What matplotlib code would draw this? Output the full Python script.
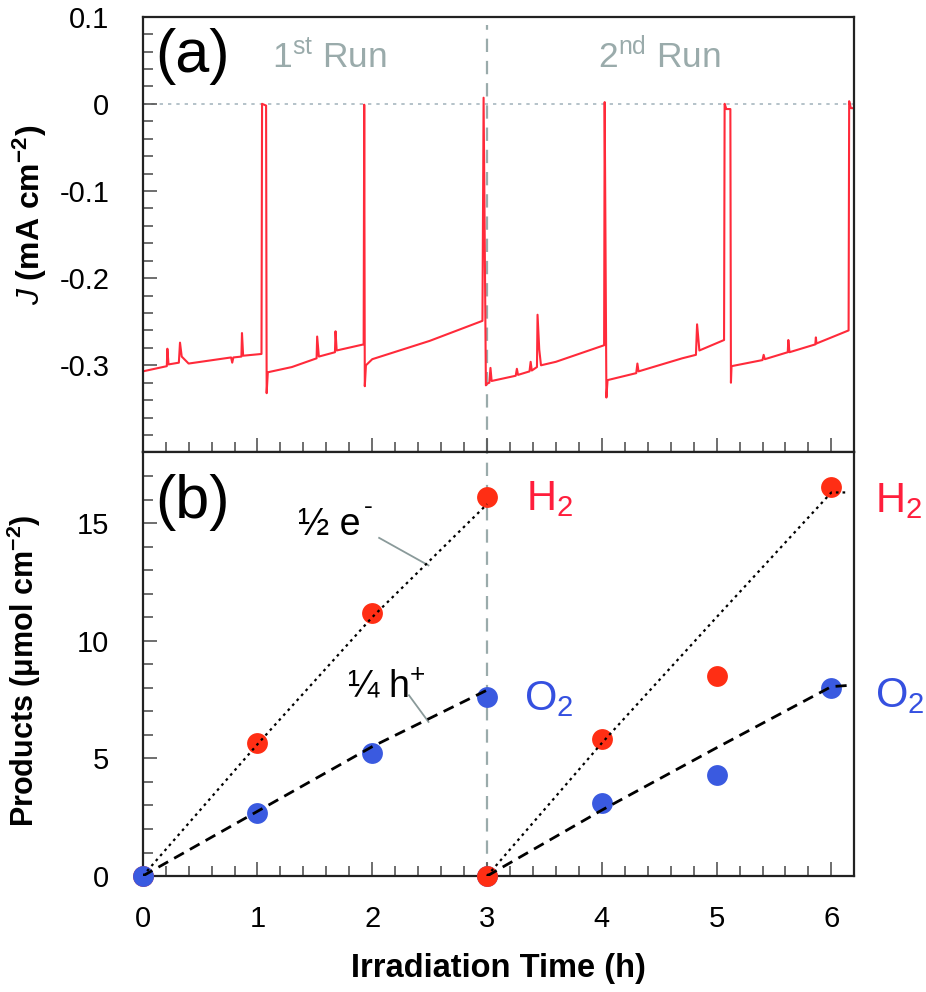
import numpy as np
import matplotlib
matplotlib.use("Agg")
import matplotlib.pyplot as plt
from matplotlib.ticker import MultipleLocator, FixedLocator, FixedFormatter

plt.rcParams['font.family'] = ['Liberation Sans', 'DejaVu Sans']
plt.rcParams['mathtext.fontset'] = 'custom'
plt.rcParams['mathtext.rm'] = 'Liberation Sans'
plt.rcParams['mathtext.it'] = 'Liberation Sans:italic'
plt.rcParams['mathtext.bf'] = 'Liberation Sans:bold'

# (a) photocurrent trace, vertices
trace_t = [0, 0, 0.21, 0.215, 0.225, 0.315, 0.325, 0.34, 0.40, 0.77, 0.78, 0.79,
           0.86, 0.865, 0.875, 1.035, 1.04, 1.075, 1.08, 1.09, 1.30, 1.515, 1.52,
           1.535, 1.675, 1.68, 1.69, 1.925, 1.93, 1.935, 1.945, 2.0, 2.5, 2.96,
           2.97, 2.99, 3.0,
           3.02, 3.03, 3.04, 3.25, 3.26, 3.27, 3.37, 3.38, 3.39, 3.435, 3.44,
           3.455, 3.47, 3.6, 4.02, 4.025, 4.04, 4.05, 4.3, 4.31, 4.32, 4.7, 4.82,
           4.83, 4.85, 5.065, 5.07, 5.085, 5.12, 5.125, 5.13, 5.4, 5.41, 5.42,
           5.62, 5.625, 5.635, 5.86, 5.865, 5.87, 6.15, 6.155, 6.17, 6.2]
trace_j = [0.0, -0.307, -0.301, -0.281, -0.299, -0.297, -0.274, -0.290, -0.298,
           -0.291, -0.297, -0.291, -0.290, -0.263, -0.289, -0.287, 0.0, -0.002,
           -0.332, -0.308, -0.302, -0.292, -0.267, -0.290, -0.285, -0.261,
           -0.283, -0.276, -0.001, -0.324, -0.300, -0.293, -0.272, -0.249,
           0.007, -0.323, -0.321,
           -0.320, -0.303, -0.318, -0.312, -0.304, -0.311, -0.307, -0.296,
           -0.306, -0.302, -0.242, -0.282, -0.300, -0.296, -0.277, 0.002,
           -0.337, -0.317, -0.309, -0.298, -0.307, -0.292, -0.288, -0.253,
           -0.283, -0.271, 0.0, -0.006, -0.006, -0.320, -0.301, -0.294, -0.288,
           -0.293, -0.285, -0.271, -0.285, -0.276, -0.268, -0.275, -0.260,
           0.003, -0.005, -0.005]

# (b) measured products
h2_t1 = [0, 1, 2, 3]
h2_v1 = [0, 5.67, 11.18, 16.1]
o2_t1 = [0, 1, 2, 3]
o2_v1 = [0, 2.69, 5.24, 7.6]
h2_t2 = [3, 4, 5, 6]
h2_v2 = [0, 5.82, 8.48, 16.52]
o2_t2 = [3, 4, 5, 6]
o2_v2 = [0, 3.09, 4.3, 8.01]

# expected from charge: 1/2 e- and 1/4 h+
e_t1 = [0, 1, 2, 3]
e_v1 = [0, 5.6, 11.0, 15.8]
e_t2 = [3, 4, 5, 6, 6.15]
e_v2 = [0, 5.65, 11.0, 16.3, 16.3]
h_t1 = [0, 1, 2, 3]
h_v1 = [0, 2.75, 5.5, 7.9]
h_t2 = [3, 4, 5, 6, 6.15]
h_v2 = [0, 2.8, 5.45, 8.05, 8.1]

x_ticks = [0, 1, 2, 3, 4, 5, 6]
ja_ticks = [0.1, 0, -0.1, -0.2, -0.3]
ja_labels = ['0.1', '0', '-0.1', '-0.2', '-0.3']
pb_ticks = [0, 5, 10, 15]

red = '#ff2e14'
blue = '#3a5ae0'
txt_red = '#ff1e3c'
txt_blue = '#3550e0'
gray = '#9aabab'

fig = plt.figure(figsize=(9.26, 9.92), dpi=100)
ax1 = fig.add_axes([0.1541, 0.5439, 0.7685, 0.4393])
ax2 = fig.add_axes([0.1541, 0.1169, 0.7685, 0.4270])

for ax in (ax1, ax2):
    ax.set_xlim(0, 6.2)
    for s in ax.spines.values():
        s.set_linewidth(1.6)
        s.set_color('#222222')
    ax.xaxis.set_major_locator(FixedLocator(x_ticks))
    ax.xaxis.set_minor_locator(MultipleLocator(0.2))
    ax.tick_params(which='both', direction='in', top=False, right=False,
                   color='#555555', width=1.2, labelsize=21)
    ax.tick_params(which='major', length=10)
    ax.tick_params(which='minor', length=7)
    ax.tick_params(axis='y', pad=24)
    ax.tick_params(axis='x', pad=21)

# ---- (a)
ax1.set_ylim(-0.4, 0.1)
ax1.yaxis.set_major_locator(FixedLocator(ja_ticks))
ax1.yaxis.set_major_formatter(FixedFormatter(ja_labels))
ax1.yaxis.set_minor_locator(MultipleLocator(0.02))
ax1.tick_params(axis='x', labelbottom=False)
ax1.axhline(0, color='#a8b8c0', lw=1.2, ls=(0, (2, 3)), zorder=1)
ax1.axvline(3, ymax=0.98, color=gray, lw=1.6, ls=(0, (6, 4)), zorder=1)
ax1.plot(trace_t, trace_j, color='#ff2a3a', lw=1.5, zorder=2)
ax1.set_ylabel(r'$\mathit{J}$ (mA cm$^{\mathbf{-2}}$)', fontsize=23,
               fontweight='bold')
ax1.yaxis.set_label_coords(-0.131, 0.545)
ax1.text(0.017, 0.873, '(a)', transform=ax1.transAxes, fontsize=44,
         va='baseline', ha='left')
ax1.text(1.13, 0.041, r'1$^{\rm st}$ Run', color=gray, fontsize=25.5,
         va='baseline', ha='left')
ax1.text(3.97, 0.041, r'2$^{\rm nd}$ Run', color=gray, fontsize=25.5,
         va='baseline', ha='left')

# ---- (b)
ax2.set_ylim(0, 18)
ax2.yaxis.set_major_locator(FixedLocator(pb_ticks))
ax2.yaxis.set_minor_locator(MultipleLocator(1))
ax2.axvline(3, color=gray, lw=1.6, ls=(0, (6, 4)), zorder=1)

ms = 15
ax2.plot(h2_t1, h2_v1, 'o', color=red, ms=ms, mec='none', clip_on=False, zorder=3)
ax2.plot(o2_t1, o2_v1, 'o', color=blue, ms=ms, mec='none', clip_on=False, zorder=4)
ax2.plot(o2_t2, o2_v2, 'o', color=blue, ms=ms, mec='none', clip_on=False, zorder=3)
ax2.plot(h2_t2, h2_v2, 'o', color=red, ms=ms, mec='none', clip_on=False, zorder=4)
# expected lines drawn over the markers, as in the picture
for t, v, st, lw in [(e_t1, e_v1, (0, (1.2, 1.8)), 1.6), (e_t2, e_v2, (0, (1.2, 1.8)), 1.6),
                     (h_t1, h_v1, (0, (4, 2.5)), 2.0), (h_t2, h_v2, (0, (4, 2.5)), 2.0)]:
    ax2.plot(t, v, color='black', lw=lw, ls=st, zorder=5)

ax2.text(3.34, 15.55, r'H$_2$', color=txt_red, fontsize=30, va='baseline')
ax2.text(6.38, 15.45, r'H$_2$', color=txt_red, fontsize=30, va='baseline')
ax2.text(3.32, 7.05, r'O$_2$', color=txt_blue, fontsize=30, va='baseline')
ax2.text(6.38, 7.18, r'O$_2$', color=txt_blue, fontsize=30, va='baseline')

ax2.text(1.35, 14.5, '½ e', fontsize=27, va='baseline')
ax2.text(1.925, 15.4, '-', fontsize=19, va='baseline')
ax2.plot([2.06, 2.49], [14.37, 13.2], color='#8a9a9a', lw=1.3, zorder=2)
ax2.text(1.78, 7.6, r'¼ h$^{+}$', fontsize=27, va='baseline')
ax2.plot([2.32, 2.49], [7.68, 6.55], color='#8a9a9a', lw=1.3, zorder=2)

ax2.text(0.017, 0.845, '(b)', transform=ax2.transAxes, fontsize=44,
         va='baseline', ha='left')

ax2.set_xlabel('Irradiation Time (h)', fontsize=23.5, fontweight='bold',
               labelpad=14)
ax2.set_ylabel(r'Products (μmol cm$^{\mathbf{-2}}$)', fontsize=22,
               fontweight='bold')
ax2.yaxis.set_label_coords(-0.14, 0.484)

fig.savefig('out.png', dpi=100)
